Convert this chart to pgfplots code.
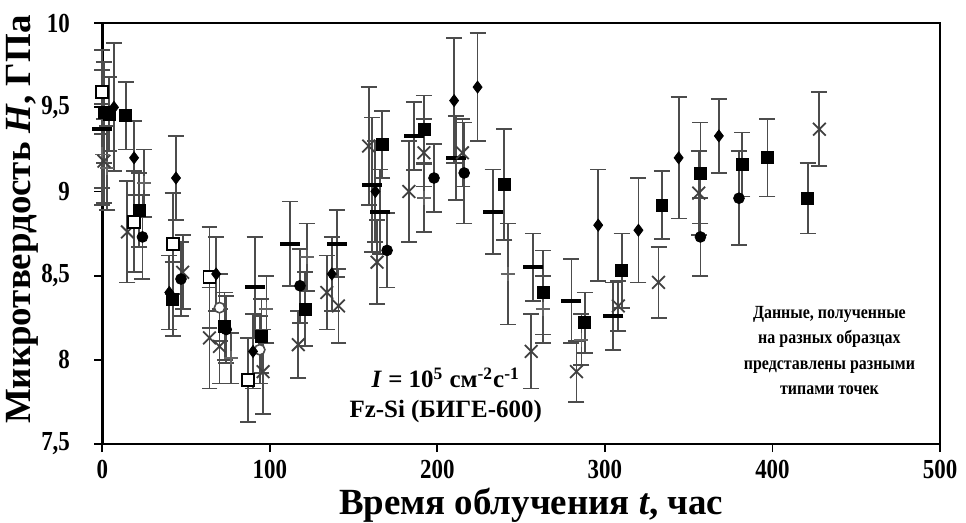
\documentclass[border=0pt]{standalone}
\usepackage{fontspec}
\setmainfont{Liberation Serif}
\usepackage{graphicx}
\usepackage{pgfplots}
\usepackage{pgfplotstable}
\pgfplotsset{compat=1.18}

% x = время, y = микротвердость, e = погрешность
\pgfplotstableread{
x y e
7 9.50 0.38
19 9.20 0.22
44 9.08 0.25
40 8.40 0.22
68 8.51 0.22
90 8.05 0.22
137 8.51 0.22
163 9.00 0.30
210 9.54 0.37
224 9.62 0.32
296 8.80 0.33
320 8.77 0.31
344 9.20 0.36
368 9.33 0.22
}\diam
\pgfplotstableread{
x y e
1 9.47 0.30
4 9.46 0.22
14 9.45 0.20
22 8.89 0.22
42 8.36 0.22
73 8.20 0.20
95 8.14 0.22
121 8.30 0.22
167 9.28 0.20
192 9.37 0.20
240 9.04 0.33
263 8.40 0.25
288 8.22 0.18
310 8.53 0.22
334 8.92 0.20
357 9.11 0.30
382 9.16 0.19
397 9.20 0.23
421 8.96 0.21
}\sqf
\pgfplotstableread{
x y e
24 8.73 0.25
47 8.48 0.22
74 8.18 0.20
118 8.44 0.22
170 8.65 0.22
198 9.08 0.20
216 9.11 0.30
357 8.73 0.23
380 8.96 0.28
}\circf
\pgfplotstableread{
x y e
0 9.59 0.25
19 8.82 0.30
42 8.69 0.30
64 8.49 0.30
87 7.88 0.25
}\sqo
\pgfplotstableread{
x y e
1 9.18 0.25
15 8.76 0.30
48 8.52 0.22
64 8.13 0.30
70 8.08 0.22
96 7.93 0.25
117 8.09 0.20
134 8.40 0.22
141 8.32 0.22
159 9.27 0.35
164 8.58 0.25
183 9.00 0.30
192 9.23 0.20
215 9.23 0.20
256 8.05 0.22
283 7.93 0.18
308 8.32 0.15
332 8.46 0.21
356 8.99 0.25
428 9.37 0.22
}\crs
\pgfplotstableread{
x y e
0 9.22 0.30
3 9.14 0.25
25 9.05 0.20
77 8.01 0.15
98 8.30 0.20
122 8.61 0.20
192 8.96 0.20
242 8.51 0.30
263 8.30 0.20
286 8.12 0.15
}\pls
\pgfplotstableread{
x y e
0 9.37 0.35
91 8.43 0.30
112 8.69 0.25
140 8.69 0.20
161 9.04 0.40
166 8.88 0.25
186 9.33 0.20
211 9.20 0.25
233 8.88 0.25
257 8.55 0.20
280 8.35 0.25
305 8.26 0.20
}\dsh
\pgfplotstableread{
x y e
70 8.31 0.20
94 8.06 0.20
}\circo

\begin{document}
\begin{tikzpicture}
\begin{axis}[
  scale only axis,
  width=420pt, height=211pt,
  xmin=0, xmax=500, ymin=7.5, ymax=10,
  xtick={0,100,...,500},
  ytick={7.5,8,...,10},
  xtick pos=lower, ytick pos=left,
  tick align=outside,
  major tick length=4pt,
  tick style={black, line width=0.9pt},
  axis line style={black, line width=1.3pt},
  clip=false,
  /pgf/number format/.cd, use comma, assume math mode=true,
  /pgfplots/.cd,
  ticklabel style={font=\bfseries\fontsize{11.5}{11.5}\selectfont, inner sep=0pt},
  xticklabel={\scalebox{1}[1.2]{\pgfmathprintnumber{\tick}}},
  yticklabel={\scalebox{1}[1.2]{\pgfmathprintnumber{\tick}}},
  xticklabel style={yshift=-4pt},
  yticklabel style={xshift=-12pt},
  xlabel={\bfseries Время облучения \textit{t}, час},
  ylabel={\bfseries Микротвердость \textit{H}, ГПа},
  xlabel style={font=\fontsize{18.5}{18.5}\selectfont, inner sep=0pt, at={(axis description cs:0.512,-0.168)}, anchor=base},
  ylabel style={font=\fontsize{18.5}{18.5}\selectfont, at={(axis description cs:-0.095,0.533)}, anchor=center},
  error bars/y dir=both, error bars/y explicit,
  error bars/error bar style={black!70, line width=0.9pt},
  error bars/error mark options={rotate=90, mark size=4pt, line width=0.9pt, black!70},
]
\addplot[only marks, mark=-, mark size=5pt, mark options={line width=2pt, black}]
  table[x=x, y=y, y error=e]{\dsh};
\addplot[only marks, mark=+, mark size=3.5pt, mark options={line width=0.9pt, black!60}]
  table[x=x, y=y, y error=e]{\pls};
\addplot[only marks, mark=x, mark size=4.5pt, mark options={line width=0.9pt, black!75}]
  table[x=x, y=y, y error=e]{\crs};
\addplot[only marks, mark=square*, mark size=3pt, mark options={fill=white, draw=black, line width=0.9pt}]
  table[x=x, y=y, y error=e]{\sqo};
\addplot[only marks, mark=*, mark size=2.6pt, mark options={fill=white, draw=black!70, line width=0.8pt}]
  table[x=x, y=y, y error=e]{\circo};
\addplot[only marks, mark=*, mark size=2.7pt, mark options={fill=black, draw=black}]
  table[x=x, y=y, y error=e]{\circf};
\addplot[only marks, mark=square*, mark size=3pt, mark options={fill=black, draw=black}]
  table[x=x, y=y, y error=e]{\sqf};
\addplot[only marks, mark=diamond*, mark size=3pt, mark options={fill=black, draw=black}]
  table[x=x, y=y, y error=e]{\diam};

\node[align=center, font=\bfseries\fontsize{12.5}{15}\selectfont] at (axis cs:205,7.79)
  {\textit{I} = 10\textsuperscript{5} см\textsuperscript{-2}с\textsuperscript{-1}\\ Fz-Si (БИГЕ-600)};
\node[font=\bfseries\fontsize{9.3}{12.8}\selectfont] at (axis cs:434,8.05)
  {\scalebox{0.86}[1]{\begin{tabular}{@{}c@{}}Данные, полученные\\ на разных образцах\\ представлены разными\\ типами точек\end{tabular}}};

\path (rel axis cs:-0.119,-0.185) (rel axis cs:1.031,1.055);
\end{axis}
\end{tikzpicture}
\end{document}
